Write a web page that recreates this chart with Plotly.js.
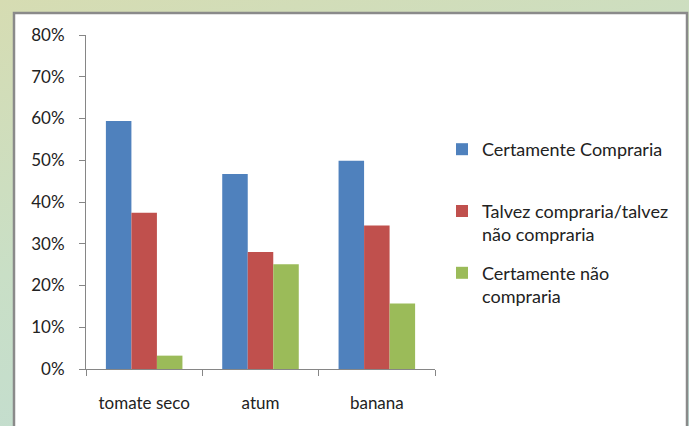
<!DOCTYPE html>
<html>
<head>
<meta charset="utf-8">
<script src="https://cdn.plot.ly/plotly-3.0.1.min.js"></script>
<style>
html,body{margin:0;padding:0;width:689px;height:426px;overflow:hidden;
background:linear-gradient(165deg,#d6dcb2 0%,#c9dfc6 45%,#bfdcd6 100%);}
#chart{width:689px;height:426px;}
</style>
</head>
<body>
<div id="chart"></div>
<script>
const categories = ['tomate seco', 'atum', 'banana'];
const seriesNames = ['Certamente Compraria<br> ', 'Talvez compraria/talvez<br>não compraria', 'Certamente não<br>compraria'];
const certamenteCompraria = [0.594, 0.467, 0.499];
const talvezCompraria = [0.374, 0.280, 0.344];
const certamenteNao = [0.032, 0.251, 0.157];
const tickVals = [0, 0.1, 0.2, 0.3, 0.4, 0.5, 0.6, 0.7, 0.8];
const tickText = ['0%', '10%', '20%', '30%', '40%', '50%', '60%', '70%', '80%'];

const colors = ['#4f81bd', '#c0504d', '#9bbb59'];
const values = [certamenteCompraria, talvezCompraria, certamenteNao];

const traces = values.map((v, i) => ({
  type: 'bar',
  x: categories,
  y: v,
  name: seriesNames[i],
  legendgroup: 'g' + i,
  marker: {color: colors[i], line: {width: 0}},
  hoverinfo: 'x+y'
}));

const L = 86, R = 689 - 435, T = 35, B = 426 - 369;
const pw = 689 - L - R, ph = 426 - T - B;
const px = v => (v - L) / pw;
const py = v => (426 - B - v) / ph;

const layout = {
  width: 689, height: 426,
  margin: {l: L, r: R, t: T, b: B, pad: 0},
  paper_bgcolor: 'rgba(0,0,0,0)',
  plot_bgcolor: 'rgba(0,0,0,0)',
  font: {family: 'Lato, sans-serif', size: 17, color: '#222222'},
  barmode: 'group',
  bargap: 0.342,
  bargroupgap: 0,
  showlegend: true,
  legend: {
    x: px(442), xanchor: 'left',
    y: py(131), yanchor: 'top',
    valign: 'top',
    tracegroupgap: 12,
    font: {family: 'Lato, sans-serif', size: 18, color: '#222222'},
    bgcolor: 'rgba(0,0,0,0)',
    borderwidth: 0
  },
  xaxis: {
    type: 'category',
    showline: true, linecolor: '#868686', linewidth: 1,
    ticks: 'outside', tickson: 'boundaries', ticklen: 6, tickcolor: '#868686',
    ticklabelstandoff: 19,
    showgrid: false, zeroline: false,
    tickfont: {size: 17}
  },
  yaxis: {
    range: [0, 0.8],
    tickvals: tickVals, ticktext: tickText,
    showline: true, linecolor: '#868686', linewidth: 1,
    ticks: 'outside', ticklen: 6, tickcolor: '#868686',
    ticklabelstandoff: 11,
    showgrid: false, zeroline: false,
    tickfont: {size: 17}
  },
  shapes: [{
    type: 'rect', xref: 'paper', yref: 'paper', layer: 'below',
    x0: px(14), x1: px(687), y0: py(440), y1: py(13),
    fillcolor: '#ffffff',
    line: {color: '#8a8a8a', width: 2.5}
  }]
};

Plotly.newPlot('chart', traces, layout, {displayModeBar: false, staticPlot: true});
</script>
</body>
</html>
